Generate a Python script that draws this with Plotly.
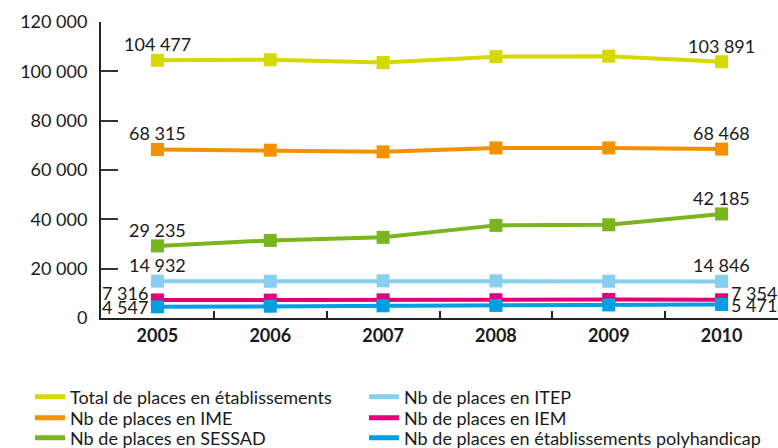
import plotly.graph_objects as go

years = ["2005", "2006", "2007", "2008", "2009", "2010"]

total_etab = [104477, 104700, 103550, 105950, 106150, 103891]
ime = [68315, 68030, 67350, 68950, 68950, 68468]
sessad = [29235, 31450, 32700, 37550, 37800, 42185]
itep = [14932, 14900, 15050, 15050, 14900, 14846]
iem = [7316, 7250, 7350, 7400, 7500, 7354]
polyhandicap = [4547, 4800, 4950, 5100, 5300, 5471]

names = [
    "Total de places en établissements",
    "Nb de places en IME",
    "Nb de places en SESSAD",
    "Nb de places en ITEP",
    "Nb de places en IEM",
    "Nb de places en établissements polyhandicap",
]
series = [total_etab, ime, sessad, itep, iem, polyhandicap]
colors = ["#D6D900", "#F39200", "#7AB51D", "#87CEF0", "#E2007A", "#009FE3"]
# legend grid cell (column, row) for each series
legend_cells = [(0, 0), (0, 1), (0, 2), (1, 0), (1, 1), (1, 2)]
# label placement per series: "top" or ("side", yshift)
label_style = ["top", "top", "top", "top", ("side", 7), ("side", 0)]

FONT = "Lato"
TXT = "#1a1a1a"


def fmt(v):
    return f"{v:,}".replace(",", " ")


plot_h = 448 - 22 - 130
plot_w = 778 - 101
rows_y = [397, 418, 438]
cols_x = [30, 364]


def ypaper(py):
    return (448 - 130 - py) / plot_h


def xpaper(px):
    return (px - 101) / plot_w


fig = go.Figure()
annotations = []
legends = {}
for k, (name, vals, col, cell, style) in enumerate(
        zip(names, series, colors, legend_cells, label_style)):
    n = len(vals)
    labels = [fmt(v) for v in vals]
    lid = "legend" if k == 0 else f"legend{k + 1}"
    fig.add_trace(go.Scatter(
        x=years, y=vals, mode="lines+markers", name=name,
        line=dict(color=col, width=4),
        marker=dict(symbol="square", size=13, color=col),
        showlegend=False, cliponaxis=False, hoverinfo="x+y+name",
    ))
    # legend-only entry (line symbol only)
    fig.add_trace(go.Scatter(
        x=[None], y=[None], mode="lines", name=name,
        line=dict(color=col, width=5), legend=lid, showlegend=True,
    ))
    legends[lid] = dict(
        orientation="h", xanchor="left", yanchor="middle",
        x=xpaper(cols_x[cell[0]]), y=ypaper(rows_y[cell[1]]),
        font=dict(family=FONT, size=18, color=TXT),
        itemwidth=30, bgcolor="rgba(0,0,0,0)",
    )
    for idx in (0, n - 1):
        if style == "top":
            ann = dict(xanchor="center", yanchor="middle", xshift=0, yshift=16)
        else:
            left = idx == 0
            ann = dict(xanchor="right" if left else "left", yanchor="middle",
                       xshift=-7 if left else 7, yshift=style[1])
        annotations.append(dict(
            ann, x=idx, y=vals[idx], xref="x", yref="y",
            text=labels[idx], showarrow=False,
            font=dict(family=FONT, size=18, color=TXT),
        ))

fig.update_layout(
    width=778, height=448,
    margin=dict(l=101, r=0, t=22, b=130, autoexpand=False),
    paper_bgcolor="white", plot_bgcolor="white",
    font=dict(family=FONT, size=18, color=TXT),
    annotations=annotations,
    showlegend=True,
    **legends,
    xaxis=dict(
        type="category", range=[-0.5, 5.5],
        showline=True, linecolor="#222", linewidth=2,
        ticks="inside", ticklen=7, tickwidth=1.5, tickcolor="#222",
        tickson="boundaries", showgrid=False, zeroline=False,
        tickfont=dict(family=FONT, size=18, color=TXT, weight="bold"),
    ),
    yaxis=dict(
        range=[0, 120000], tickvals=[0, 20000, 40000, 60000, 80000, 100000, 120000],
        ticktext=[fmt(v) for v in [0, 20000, 40000, 60000, 80000, 100000, 120000]],
        showline=True, linecolor="#222", linewidth=2,
        ticks="inside", ticklen=17, tickwidth=2, tickcolor="#333",
        showgrid=False, zeroline=False, ticklabelstandoff=8,
        tickfont=dict(family=FONT, size=18, color=TXT),
    ),
)

fig.write_html(
    "out.html",
    config={"displayModeBar": False},
    post_script="document.body.style.margin='0';document.body.style.overflow='hidden';",
)
